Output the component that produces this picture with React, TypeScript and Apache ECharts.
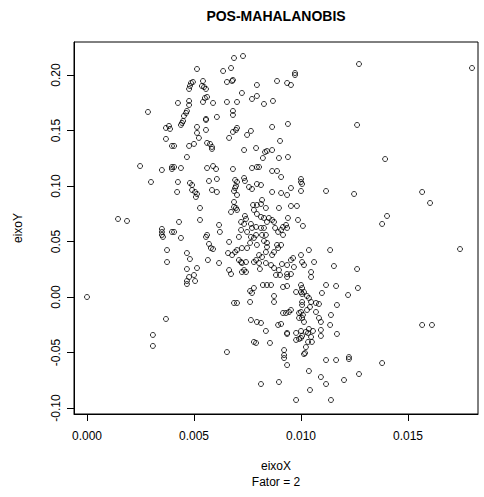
import { useEffect, useRef } from "react";
import * as echarts from "echarts";

// Each point: eixoX[i], eixoY[i]
const eixoX = [
  0, 0.00145, 0.00187, 0.00248, 0.00285, 0.00369, 0.00383, 0.00388, 0.00369, 0.00397,
  0.0035, 0.00397, 0.00397, 0.00299, 0.0035, 0.0035, 0.0035, 0.00355, 0.00397, 0.00374,
  0.00374, 0.00369, 0.00308, 0.00308, 0.01271, 0.01799, 0.01262, 0.01393, 0.01248, 0.01566,
  0.01603, 0.01402, 0.01379, 0.01743, 0.01154, 0.01262, 0.01164, 0.01266, 0.0122, 0.01168,
  0.01566, 0.01612, 0.01168, 0.01164, 0.01224, 0.01224, 0.01379, 0.01271, 0.01201,
  0.00687, 0.00729, 0.00514, 0.00636, 0.00673, 0.00654, 0.00678, 0.00682, 0.00495, 0.00486,
  0.00481, 0.00477, 0.00542, 0.00537, 0.00547, 0.00556, 0.00425, 0.00477, 0.00477, 0.00561,
  0.00551, 0.00542, 0.00589, 0.00654, 0.00701, 0.00724, 0.00771, 0.00467, 0.00463, 0.00453,
  0.00449, 0.00444, 0.00439, 0.00556, 0.00556, 0.00607, 0.00682, 0.00682, 0.00514, 0.00556,
  0.00514, 0.00523, 0.00696, 0.00701, 0.00682, 0.00664, 0.00748, 0.00766, 0.00477, 0.005,
  0.00561, 0.00575, 0.00584, 0.00584, 0.00407, 0.00467, 0.00734, 0.00407, 0.00439, 0.00561,
  0.00589, 0.00603, 0.00682, 0.00771,
  0.00972, 0.00972, 0.00888, 0.00935, 0.00953, 0.00794, 0.00794, 0.00827, 0.00869, 0.00865,
  0.00939, 0.00902, 0.0079, 0.00832, 0.00841, 0.00865, 0.00822, 0.00897, 0.00939, 0.00794,
  0.00804, 0.00865, 0.00888,
  0.00425, 0.00421, 0.00481, 0.00491, 0.00491, 0.00505, 0.00514, 0.00509, 0.0057, 0.00607,
  0.00584, 0.00607, 0.00692, 0.00701, 0.00734, 0.00738, 0.00696, 0.00692, 0.00687, 0.00757,
  0.00771, 0.00701, 0.00528, 0.00687, 0.00687, 0.00696, 0.00701, 0.00673, 0.00776, 0.0043,
  0.00528, 0.00738, 0.00743, 0.0072, 0.00734, 0.00766, 0.00771, 0.0072, 0.00617, 0.00621,
  0.00407, 0.00439, 0.00561, 0.00556, 0.0071, 0.00748, 0.00766, 0.0078, 0.0057, 0.00579,
  0.00589, 0.00664, 0.00762, 0.00748, 0.00724, 0.00701, 0.00467, 0.00481, 0.00659, 0.00678,
  0.00692, 0.00565, 0.00617, 0.0071, 0.0072, 0.00724, 0.00743, 0.0078, 0.00467, 0.00514,
  0.00664, 0.00673, 0.00734, 0.00724, 0.00743, 0.00477, 0.005, 0.00467, 0.00505, 0.00467,
  0.0078, 0.00762, 0.00771,
  0.00907, 0.01, 0.01, 0.01005, 0.00794, 0.00813, 0.00865, 0.00907, 0.00935, 0.00953,
  0.01, 0.01117, 0.00818, 0.00813, 0.00794, 0.00836, 0.0078, 0.00897, 0.00953, 0.00981,
  0.00794, 0.00813, 0.00827, 0.0085, 0.00865, 0.00841, 0.00874, 0.00939, 0.00986, 0.01009,
  0.0093, 0.00935, 0.00916, 0.00907, 0.00893, 0.00916, 0.00879, 0.0079, 0.00813, 0.00827,
  0.0079, 0.00818, 0.00836, 0.00827, 0.00841, 0.00841, 0.00794, 0.00888, 0.00907, 0.00893,
  0.00804, 0.00818, 0.00836, 0.00865, 0.00874, 0.01037, 0.01136, 0.0079, 0.00804, 0.00836,
  0.0086, 0.00953, 0.00963, 0.01, 0.01005, 0.01014, 0.01061, 0.00911, 0.00967, 0.00935,
  0.00808, 0.00874, 0.00897, 0.00902, 0.00883, 0.00935, 0.00953, 0.00935, 0.01047, 0.01047,
  0.00822, 0.00841, 0.0086, 0.00916, 0.00935, 0.01, 0.01005, 0.01, 0.01014,
  0.01005, 0.00977, 0.01028, 0.01037, 0.01117, 0.01098, 0.00874,
  0.00687, 0.00701, 0.00762, 0.00766, 0.0078, 0.00654,
  0.00874, 0.01005, 0.01005, 0.01047, 0.0107, 0.01084, 0.00794, 0.00813, 0.00836, 0.00893,
  0.00907, 0.00916, 0.0093, 0.00944, 0.00953, 0.00991, 0.01, 0.01009, 0.01005, 0.00991,
  0.01014, 0.01028, 0.01042, 0.0107, 0.01084, 0.01093, 0.0114, 0.01136, 0.0079, 0.00855,
  0.00935, 0.00935, 0.00977, 0.01, 0.01005, 0.01, 0.00977, 0.00991, 0.01023, 0.01033,
  0.01037, 0.01056, 0.01047, 0.01093, 0.01093, 0.01033, 0.01051, 0.01023, 0.01019, 0.01014,
  0.00921, 0.00921, 0.00921, 0.00935, 0.01117,
  0.01037, 0.01093, 0.01117, 0.00813, 0.00897, 0.01042, 0.00977, 0.0114,
];

const eixoY = [
  0, 0.0703, 0.0685, 0.118, 0.1667, 0.1523, 0.1541, 0.1514, 0.1424, 0.1361,
  0.1144, 0.1171, 0.1153, 0.1036, 0.0613, 0.0586, 0.0559, 0.0541, 0.0586, 0.0423,
  0.0315, -0.0198, -0.0342, -0.0441, 0.2099, 0.2063, 0.155, 0.1243, 0.0928, 0.0946,
  0.0847, 0.073, 0.0658, 0.0432, 0.0279, 0.0252, 0.0099, 0.0081, 0.0018, -0.0072,
  -0.0252, -0.0252, -0.0333, -0.0568, -0.0541, -0.0559, -0.0595, -0.0694, -0.0748,
  0.2153, 0.2171, 0.2054, 0.2036, 0.2063, 0.1937, 0.1946, 0.1955, 0.1937, 0.1928,
  0.1901, 0.1874, 0.1946, 0.1901, 0.1892, 0.1874, 0.1748, 0.1766, 0.173, 0.1802,
  0.1793, 0.1757, 0.1748, 0.1757, 0.1757, 0.1838, 0.1784, 0.1676, 0.1658, 0.1631,
  0.1586, 0.1568, 0.155, 0.1604, 0.1595, 0.1622, 0.1676, 0.164, 0.1532, 0.1505,
  0.1478, 0.1433, 0.1505, 0.1523, 0.1487, 0.1433, 0.146, 0.1496, 0.1361, 0.1379,
  0.1388, 0.1379, 0.1352, 0.1334, 0.1361, 0.1261, 0.1324, 0.1171, 0.1162, 0.1162,
  0.118, 0.1153, 0.1153, 0.1162,
  0.2018, 0.2, 0.1946, 0.1928, 0.191, 0.191, 0.1811, 0.1739, 0.1766, 0.1532,
  0.1559, 0.1406, 0.1342, 0.1306, 0.1315, 0.1324, 0.1252, 0.1252, 0.1261, 0.1171,
  0.1171, 0.1135, 0.1135,
  0.1036, 0.0946, 0.1027, 0.1009, 0.0964, 0.0946, 0.0928, 0.0901, 0.1045, 0.1063,
  0.0964, 0.0946, 0.1054, 0.1036, 0.1072, 0.1045, 0.1, 0.0982, 0.0955, 0.0991,
  0.0973, 0.0919, 0.0802, 0.0856, 0.0811, 0.0802, 0.0784, 0.0766, 0.0829, 0.0676,
  0.0694, 0.073, 0.0703, 0.0676, 0.0658, 0.0658, 0.0622, 0.0604, 0.0649, 0.0586,
  0.0586, 0.0532, 0.0559, 0.0541, 0.0541, 0.0586, 0.0541, 0.0532, 0.0478, 0.0441,
  0.0432, 0.0496, 0.0487, 0.0441, 0.0441, 0.0423, 0.0396, 0.0342, 0.0396, 0.0378,
  0.0405, 0.0333, 0.0306, 0.0333, 0.0315, 0.0306, 0.0315, 0.0315, 0.0252, 0.0261,
  0.0243, 0.0207, 0.0243, 0.0225, 0.0225, 0.018, 0.0198, 0.0144, 0.0144, 0.0117,
  0.0081, 0.0054, 0.0036,
  0.1081, 0.1063, 0.1036, 0.1018, 0.1018, 0.1009, 0.0946, 0.0937, 0.0919, 0.0982,
  0.0955, 0.0955, 0.0874, 0.0838, 0.0829, 0.0802, 0.0784, 0.0802, 0.082, 0.082,
  0.0748, 0.0721, 0.0712, 0.0712, 0.0694, 0.0676, 0.0676, 0.0712, 0.0694, 0.064,
  0.0649, 0.0622, 0.0631, 0.0604, 0.0586, 0.0559, 0.0622, 0.0631, 0.0622, 0.0622,
  0.0559, 0.0559, 0.0559, 0.0505, 0.0487, 0.0451, 0.0469, 0.0469, 0.0469, 0.0441,
  0.0378, 0.036, 0.0405, 0.0378, 0.0405, 0.0423, 0.0423, 0.0333, 0.0306, 0.0306,
  0.0288, 0.0333, 0.0351, 0.0378, 0.0315, 0.0288, 0.0315, 0.0297, 0.027, 0.0288,
  0.0252, 0.0261, 0.0243, 0.0198, 0.0198, 0.0207, 0.0207, 0.018, 0.0225, 0.018,
  0.0108, 0.0108, 0.0108, 0.009, 0.0099, 0.0108, 0.0081, 0.0045, 0.0045,
  0.0027, 0.0045, 0.0009, -0.0009, 0.0108, 0.0036, 0.0009,
  -0.0054, -0.0054, -0.0045, -0.0207, -0.0405, -0.0496,
  -0.0045, -0.0045, -0.0072, -0.0045, -0.0054, -0.0063, -0.0225, -0.0234, -0.0306, -0.0252,
  -0.0243, -0.0144, -0.0144, -0.0135, -0.0117, -0.0144, -0.0135, -0.0162, -0.0189, -0.0189,
  -0.0225, -0.0117, -0.009, -0.0135, -0.0189, -0.0225, -0.0162, -0.0252, -0.0414, -0.0414,
  -0.0324, -0.0333, -0.0324, -0.0306, -0.0351, -0.0369, -0.0387, -0.0378, -0.0315, -0.0324,
  -0.0288, -0.0306, -0.036, -0.0297, -0.0351, -0.0405, -0.0405, -0.0451, -0.0505, -0.0514,
  -0.0478, -0.0523, -0.055, -0.0613, -0.0568,
  -0.0667, -0.0721, -0.0784, -0.0784, -0.0766, -0.0838, -0.0928, -0.0928,
];

const xTicks = [0, 0.005, 0.01, 0.015];
const yTicks = [-0.1, -0.05, 0, 0.05, 0.1, 0.15, 0.2];

const FONT = "'Liberation Sans', Arial, sans-serif";

export default function App() {
  const ref = useRef<HTMLDivElement>(null);

  useEffect(() => {
    if (!ref.current) return;
    const chart = echarts.init(ref.current, null, { renderer: "svg" });
    const points = eixoX.map((x, i) => [x, eixoY[i]]);

    chart.setOption({
      animation: false,
      backgroundColor: "#ffffff",
      grid: {
        left: 74,
        right: 6,
        top: 42,
        bottom: 83,
        show: true,
        borderColor: "#000",
        borderWidth: 1,
        backgroundColor: "transparent",
      },
      xAxis: {
        type: "value",
        min: -0.000607,
        max: 0.018271,
        name: "eixoX",
        nameLocation: "middle",
        nameGap: 46,
        nameTextStyle: { color: "#000", fontSize: 12, fontFamily: FONT },
        axisLine: { show: true, onZero: false, lineStyle: { color: "#000", width: 1 } },
        axisTick: {
          show: true,
          customValues: xTicks,
          length: 7,
          inside: false,
          lineStyle: { color: "#000", width: 1 },
        },
        axisLabel: {
          show: true,
          customValues: xTicks,
          margin: 16,
          color: "#000",
          fontSize: 12,
          fontFamily: FONT,
          formatter: (v: number) => v.toFixed(3),
        },
        splitLine: { show: false },
      },
      yAxis: {
        type: "value",
        min: -0.10541,
        max: 0.22973,
        name: "eixoY",
        nameLocation: "middle",
        nameGap: 50,
        nameRotate: 90,
        nameTextStyle: { color: "#000", fontSize: 12, fontFamily: FONT },
        axisLine: { show: true, onZero: false, lineStyle: { color: "#000", width: 1 } },
        axisTick: {
          show: true,
          customValues: yTicks,
          length: 7,
          inside: false,
          lineStyle: { color: "#000", width: 1 },
        },
        axisLabel: {
          show: true,
          customValues: yTicks,
          rotate: 90,
          margin: 12,
          color: "#000",
          fontSize: 12,
          fontFamily: FONT,
          formatter: (v: number) => (Math.abs(v) < 1e-9 ? "0.00" : v.toFixed(2)),
        },
        splitLine: { show: false },
      },
      graphic: [
        {
          type: "text",
          x: 276,
          y: 16,
          style: {
            text: "POS-MAHALANOBIS",
            fill: "#000",
            font: `bold 14px ${FONT}`,
            textAlign: "center",
            textVerticalAlign: "middle",
          },
        },
        {
          type: "text",
          x: 276,
          y: 482,
          style: {
            text: "Fator = 2",
            fill: "#000",
            font: `12px ${FONT}`,
            textAlign: "center",
            textVerticalAlign: "middle",
          },
        },
      ],
      series: [
        {
          type: "scatter",
          data: points,
          symbol: "circle",
          symbolSize: 5,
          itemStyle: { color: "transparent", borderColor: "#000", borderWidth: 1 },
          silent: true,
        },
      ],
    });

    return () => chart.dispose();
  }, []);

  return (
    <div
      ref={ref}
      style={{ position: "fixed", left: 0, top: 0, width: 484, height: 497 }}
    />
  );
}
